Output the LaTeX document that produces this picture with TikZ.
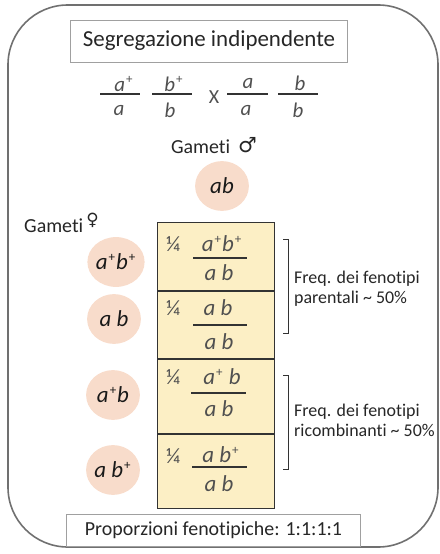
\documentclass[tikz,border=0pt]{standalone}
\usepackage{fontspec}
\setmainfont{Carlito}[Ligatures=NoCommon]
\newfontfamily\symfont{DejaVu Sans}
\usetikzlibrary{shapes.geometric}
\definecolor{frame}{HTML}{707070}
\definecolor{boxline}{HTML}{A0A0A0}
\definecolor{cellfill}{HTML}{FCEFC5}
\definecolor{gamfill}{HTML}{F8DCCB}
\definecolor{celltext}{HTML}{505050}
\definecolor{maintext}{HTML}{262626}
\tikzset{
  labelbox/.style={draw=boxline, line width=0.8pt, inner sep=0pt, text=maintext},
  cellbox/.style={draw=black!80, line width=0.9pt, fill=cellfill, minimum width=118, inner sep=0pt},
  gamete/.style={ellipse, fill=gamfill, minimum width=54, minimum height=50, inner sep=0pt,
     font=\fontsize{23}{26}\selectfont\itshape, text=black!90},
  celltxt/.style={inner sep=0pt, text=celltext, font=\fontsize{23}{26}\selectfont\itshape},
  quarter/.style={inner sep=0pt, text=celltext, font=\fontsize{22}{24}\selectfont},
  topfr/.style={inner sep=0pt, text=celltext, font=\fontsize{21}{24}\selectfont\itshape},
  fbar/.style={line width=1.6pt, black!80},
  tbar/.style={line width=1.2pt, black!80},
  plain/.style={inner sep=0pt, text=maintext},
  brk/.style={line width=0.9pt, black!80},
}
\newcommand{\supp}[1]{\kern1pt\raisebox{0.38em}{\upshape\fontsize{13}{13}\selectfont #1}\kern1pt}
\begin{document}
\begin{tikzpicture}[x=1bp,y=-1bp]
\useasboundingbox (0,0) rectangle (440,554);
% outer frame
\draw[frame, line width=1.6pt, rounded corners=60] (8,5) rectangle (438,547);
% title
\node[labelbox, minimum width=278, minimum height=42, font=\fontsize{23}{26}\selectfont] (title) at (209,41) {Segregazione indipendente};
% cross
\node[topfr] (n1) at (124,84) {a\supp{+}};
\node[topfr] (d1) at (119,111) {a};
\draw[tbar] (100,94) coordinate (b1l) -- (140,94) coordinate (b1r);
\node[topfr] (n2) at (174,84) {b\supp{+}};
\node[topfr] (d2) at (170,110) {b};
\draw[tbar] (152,94) coordinate (b2l) -- (192,94) coordinate (b2r);
\node[plain, text=celltext, font=\fontsize{20}{23}\selectfont] (x) at (214,97) {X};
\node[topfr] (n3) at (248,84) {a};
\node[topfr] (d3) at (246,111) {a};
\draw[tbar] (227,94) coordinate (b3l) -- (268,94) coordinate (b3r);
\node[topfr] (n4) at (300,83) {b};
\node[topfr] (d4) at (298,110) {b};
\draw[tbar] (278,94) coordinate (b4l) -- (318,94) coordinate (b4r);
% gametes male
\node[plain, font=\fontsize{20}{23}\selectfont] (gm) at (214,146) {Gameti\hspace{8pt}\raisebox{1pt}{{\symfont\fontsize{21}{23}\selectfont ♂}}};
\node[gamete] (gab) at (222,186) {ab};
% gametes female
\node[plain, anchor=west, font=\fontsize{20}{23}\selectfont] (gf) at (24,223) {Gameti\hspace{3pt}\raisebox{7pt}{{\symfont\fontsize{17}{20}\selectfont ♀}}};
\node[gamete] (g1) at (116,262) {a\supp{+}b\supp{+}};
\node[gamete] (g2) at (114,319) {a b};
\node[gamete] (g3) at (113,395) {a\supp{+}b};
\node[gamete] (g4) at (113,470) {a b\supp{+}};
% table
\node[cellbox, minimum height=69] (r1) at (216,256.5) {};
\node[cellbox, minimum height=68] (r2) at (216,325) {};
\node[cellbox, minimum height=75] (r3) at (216,396.5) {};
\node[cellbox, minimum height=75] (r4) at (216,471.5) {};
% row 1
\node[quarter] (q1) at (173,244) {¼};
\node[celltxt] (c1n) at (222,244) {a\supp{+}b\supp{+}};
\draw[fbar] (193,258) -- (247,258);
\node[celltxt] (c1d) at (219,273) {a b};
% row 2
\node[quarter] (q2) at (173,308) {¼};
\node[celltxt] (c2n) at (218,308) {a b};
\draw[fbar] (193,325) -- (247,325);
\node[celltxt] (c2d) at (219,342) {a b};
% row 3
\node[quarter] (q3) at (173,377) {¼};
\node[celltxt] (c3n) at (222,377) {a\supp{+}\ b};
\draw[fbar] (191,393) -- (246,393);
\node[celltxt] (c3d) at (219,409) {a b};
% row 4
\node[quarter] (q4) at (173,456) {¼};
\node[celltxt] (c4n) at (221,455) {a b\supp{+}};
\draw[fbar] (192,467) -- (247,467);
\node[celltxt] (c4d) at (219,484) {a b};
% brackets
\draw[brk] (283,239) -- (288,239) -- (288,333) -- (283,333);
\draw[brk] (283,375) -- (288,375) -- (288,469) -- (283,469);
\node[plain, anchor=west, align=left, font=\fontsize{18}{20}\selectfont] (f1) at (294,289) {Freq. dei fenotipi\\parentali \textasciitilde{} 50\%};
\node[plain, anchor=west, align=left, font=\fontsize{18}{20}\selectfont] (f2) at (294,420) {Freq. dei fenotipi\\ricombinanti \textasciitilde{} 50\%};
% bottom
\node[labelbox, minimum width=295, minimum height=32, font=\fontsize{20}{23}\selectfont] (prop) at (213.5,530) {Proporzioni fenotipiche: 1:1:1:1};
\end{tikzpicture}
\end{document}
